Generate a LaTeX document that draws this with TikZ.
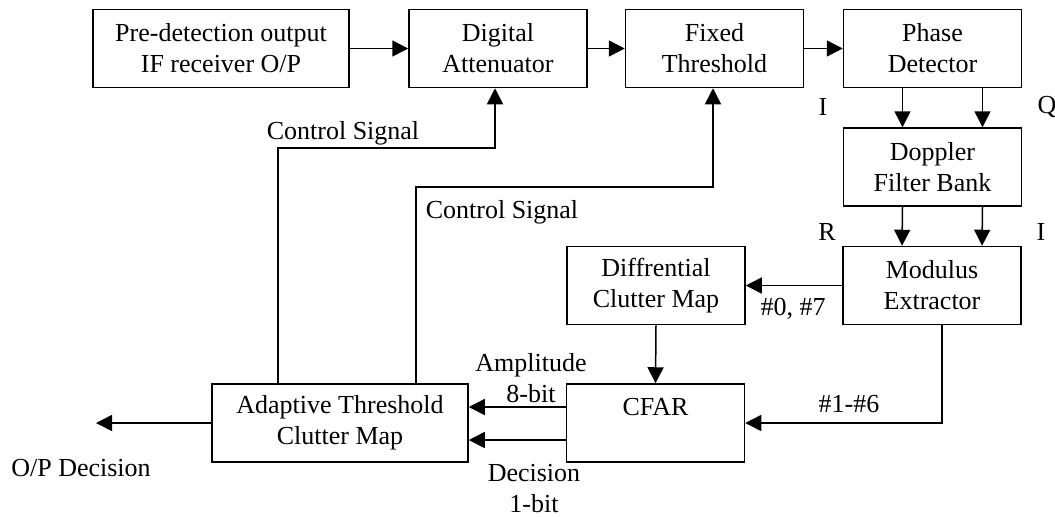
\documentclass[tikz,border=0pt]{standalone}
\usepackage{fontspec}
\setmainfont{Liberation Serif}
\usetikzlibrary{arrows.meta}
\begin{document}
\begin{tikzpicture}[x=0.5pt,y=-0.5pt,
  every node/.style={font=\fontsize{13}{15.5}\selectfont},
  blk/.style={draw, line width=0.75pt, minimum width=89pt, minimum height=39pt, inner sep=0pt, align=center},
  wideblk/.style={blk, minimum width=128pt},
  lbl/.style={inner sep=0pt, align=center},
  arr/.style={line width=0.75pt, -{Triangle[length=8pt,width=8pt]}},
  ln/.style={line width=0.75pt}]
\useasboundingbox (0,0) rectangle (1055,516);
% blocks
\node[wideblk] (pre) at (221,48.5) {Pre-detection output\\IF receiver O/P};
\node[blk] (att) at (498,48.5) {Digital\\Attenuator};
\node[blk] (fix) at (714.5,48.5) {Fixed\\Threshold};
\node[blk] (pd) at (932.5,48.5) {Phase\\Detector};
\node[blk] (dfb) at (932.5,167) {Doppler\\Filter Bank};
\node[blk] (mod) at (932,285.5) {Modulus\\Extractor};
\node[blk] (diff) at (656,285.5) {Diffrential\\Clutter Map};
\node[blk] (cfar) at (655.5,423) {CFAR\\\phantom{C}};
\node[wideblk] (adapt) at (340,423) {Adaptive Threshold\\Clutter Map};
% free ends
\coordinate (out) at (96,423);
\coordinate (k1) at (495,148);
\coordinate (k2) at (713,187);
% connectors
\draw[arr] (pre) -- (att);
\draw[arr] (att) -- (fix);
\draw[arr] (fix) -- (pd);
\draw[arr] ([xshift=-15pt]pd.south) -- ([xshift=-15pt]dfb.north);
\draw[arr] ([xshift=25pt]pd.south) -- ([xshift=25pt]dfb.north);
\draw[arr] ([xshift=-15pt]dfb.south) -- ([xshift=-15pt]mod.north);
\draw[arr] ([xshift=25pt]dfb.south) -- ([xshift=25pt]mod.north);
\draw[arr] (mod.west) -- (diff.east);
\draw[arr] (diff.south) -- (cfar.north);
\draw[arr] ([xshift=5pt]mod.south) |- (cfar.east);
\draw[arr] ([yshift=8pt]cfar.west) -- ([yshift=8pt]adapt.east);
\draw[arr] ([yshift=-8.5pt]cfar.west) -- ([yshift=-8.5pt]adapt.east);
\draw[arr] (adapt.west) -- (out);
\draw[arr] ([xshift=-31pt]adapt.north) |- (k1) -- ([xshift=-1.5pt]att.south);
\draw[arr] ([xshift=38pt]adapt.north) |- (k2) -- ([xshift=-0.75pt]fix.south);
% labels
\node[lbl] (cs1) at (343,133) {Control Signal};
\node[lbl] (cs2) at (502,212) {Control Signal};
\node[lbl] (li) at (823,107) {I};
\node[lbl] (lq) at (1047,107) {Q};
\node[lbl] (lr) at (827,232) {R};
\node[lbl] (li2) at (1041,232) {I};
\node[lbl] (l07) at (793,309) {\#0, \#7};
\node[lbl] (l16) at (849,404) {\#1-\#6};
\node[lbl] (lamp) at (531,378.5) {Amplitude\\8-bit};
\node[lbl] (ldec) at (534,489) {Decision\\1-bit};
\node[lbl] (lop) at (81,468) {O/P Decision};
\end{tikzpicture}
\end{document}
